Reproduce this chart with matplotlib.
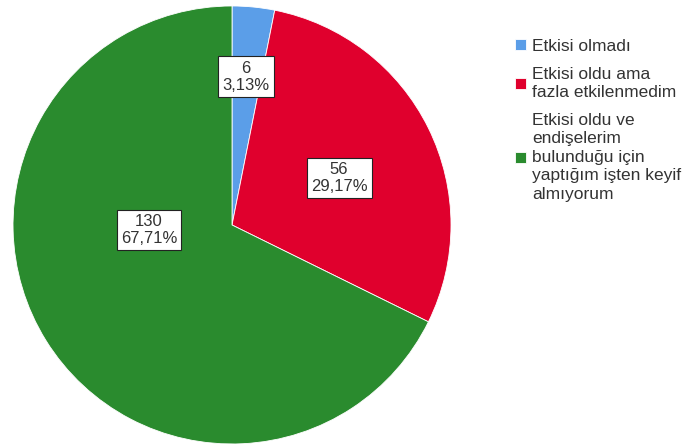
import matplotlib
matplotlib.use("Agg")
import matplotlib.pyplot as plt
import numpy as np

# Survey responses
categories = [
    "Etkisi olmadı",
    "Etkisi oldu ama\nfazla etkilenmedim",
    "Etkisi oldu ve\nendişelerim\nbulunduğu için\nyaptığım işten keyif\nalmıyorum",
]
counts = [6, 56, 130]
percent_labels = ["3,13%", "29,17%", "67,71%"]
colors = ["#5b9ee8", "#e0002d", "#2a8b2e"]

plt.rcParams["font.family"] = ["Liberation Sans", "DejaVu Sans"]

fig = plt.figure(figsize=(7.0, 4.47), dpi=100)
ax = fig.add_axes([0.0186, 0.0067, 0.6257, 0.98])

wedges, _ = ax.pie(counts, colors=colors, startangle=90, counterclock=False,
                   radius=1.0, wedgeprops=dict(linewidth=0.6, edgecolor="white"))
ax.set_xlim(-1, 1)
ax.set_ylim(-1, 1)
ax.set_aspect("equal")

# value boxes: (radius, angle in degrees) for each slice
label_pos = [(0.68, 84.6), (0.534, 23.7), (0.38, 183.5)]
for (r, a), n, p in zip(label_pos, counts, percent_labels):
    x = r * np.cos(np.radians(a))
    y = r * np.sin(np.radians(a))
    ax.text(x, y, f"{n}\n{p}", ha="center", va="center", fontsize=12,
            color="#333333", linespacing=1.2,
            bbox=dict(boxstyle="square,pad=0.25", facecolor="white",
                      edgecolor="#222222", linewidth=0.8))

leg = fig.legend(wedges, categories, loc="upper left",
                 bbox_to_anchor=(0.724, 0.932), frameon=False,
                 fontsize=12.5, handlelength=0.6, handleheight=0.6,
                 handletextpad=0.35, labelspacing=0.72, borderpad=0)
for t in leg.get_texts():
    t.set_color("#333333")
    t.set_linespacing(1.3)

fig.savefig("out.png", dpi=100)
